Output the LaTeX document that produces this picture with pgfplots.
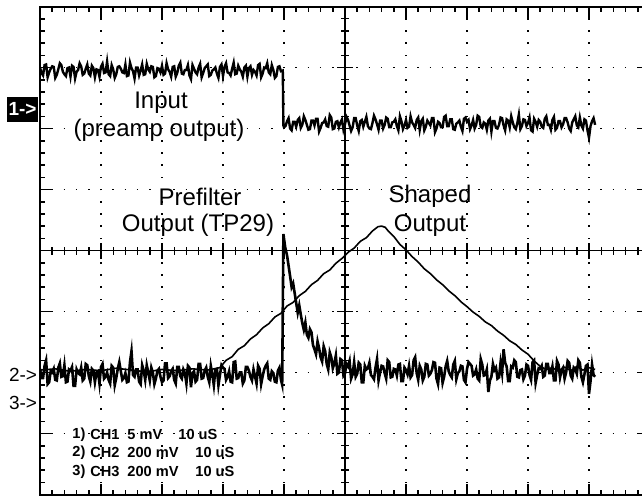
\documentclass[border=0pt]{standalone}
\usepackage{pgfplots}
\pgfplotsset{compat=1.18}
\usepackage{fontspec}
\setmainfont{Liberation Sans}

\begin{document}
\begin{tikzpicture}
\useasboundingbox (-20pt,-0.25pt) rectangle (301pt,247.25pt);
\clip (-20pt,-0.25pt) rectangle (301pt,247.25pt);
% centre cross of the graticule
\draw[line width=0.8pt] (152.5pt,0pt) -- (152.5pt,244pt);
\draw[line width=0.8pt] (0pt,122pt) -- (305pt,122pt);
\foreach \i in {1,...,39} {
  \draw[line width=0.7pt] ({152.5pt-2pt},{\i*6.1pt}) -- ++(4pt,0pt);
}
\foreach \i in {1,...,49} {
  \draw[line width=0.7pt] ({\i*6.1pt},{122pt-2pt}) -- ++(0pt,4pt);
}
\foreach \i in {1,...,7} {
  \draw[line width=0.7pt] ({152.5pt-4pt},{\i*30.5pt}) -- ++(8pt,0pt);
}
\foreach \i in {1,...,9} {
  \draw[line width=0.7pt] ({\i*30.5pt},{122pt-4pt}) -- ++(0pt,8pt);
}
\begin{axis}[
  anchor=south west, at={(0pt,0pt)},
  scale only axis, width=305pt, height=244pt,
  xmin=0, xmax=10, ymin=0, ymax=8,
  xtick={0,...,10}, ytick={0,...,8},
  minor x tick num=4, minor y tick num=4,
  xticklabels={}, yticklabels={},
  tick align=inside,
  major tick length=5.5pt, minor tick length=2.5pt,
  every tick/.style={black, line width=0.8pt},
  grid=major,
  major grid style={black, line width=0.8pt, dash pattern=on 0.8pt off 5.3pt, dash phase=0.4pt},
  axis line style={line width=1pt},
  clip=true,
]
% Channel 3: shaped output
\addplot[black, line width=0.8pt, line join=round] coordinates {
(0.00,2.04)(0.25,2.06)(0.50,2.02)(0.75,2.05)(1.00,2.03)(1.25,2.07)(1.50,2.04)(1.75,2.01)(2.00,2.05)(2.25,2.03)
(2.50,2.06)(2.75,2.04)(2.95,2.08)(3.05,2.20)(3.15,2.26)(3.25,2.38)(3.35,2.44)(3.45,2.55)(3.55,2.62)(3.65,2.73)
(3.75,2.80)(3.85,2.91)(3.95,2.97)(4.05,3.09)(4.15,3.15)(4.25,3.26)(4.35,3.33)(4.45,3.44)(4.55,3.51)(4.65,3.62)
(4.75,3.68)(4.85,3.79)(4.95,3.87)(5.05,3.97)(5.15,4.04)(5.25,4.15)(5.35,4.21)(5.45,4.32)(5.54,4.39)(5.60,4.40)
(5.66,4.38)(5.70,4.33)(5.80,4.23)(5.90,4.10)(6.00,4.01)(6.10,3.90)(6.20,3.81)(6.30,3.70)(6.40,3.62)(6.50,3.52)
(6.60,3.44)(6.70,3.34)(6.80,3.26)(6.90,3.16)(7.00,3.08)(7.10,2.99)(7.20,2.92)(7.30,2.83)(7.40,2.77)(7.50,2.68)
(7.60,2.61)(7.70,2.52)(7.80,2.46)(7.90,2.37)(8.00,2.30)(8.10,2.19)(8.20,2.10)(8.30,2.05)(8.40,2.08)(8.50,2.02)
(8.60,2.09)(8.70,2.03)(8.80,2.10)(8.90,2.04)(9.00,2.08)(9.10,2.05)
};
% Channel 2: prefilter output (TP29)
\addplot[black, line width=1.3pt, line join=miter] coordinates {
(0.000,2.06)(0.025,1.91)(0.050,1.91)(0.075,2.11)(0.100,2.20)(0.125,1.81)(0.150,1.84)(0.175,2.02)(0.200,2.00)(0.225,2.06)
(0.250,1.88)(0.275,1.87)(0.300,2.08)(0.325,2.15)(0.350,1.93)(0.375,1.94)(0.400,2.12)(0.425,1.84)(0.450,1.85)(0.475,2.05)
(0.500,2.03)(0.525,2.09)(0.550,1.78)(0.575,1.78)(0.600,2.05)(0.625,1.99)(0.650,1.97)(0.675,2.08)(0.700,1.87)(0.725,1.90)
(0.750,2.14)(0.775,2.12)(0.800,1.94)(0.825,1.85)(0.850,2.06)(0.875,2.03)(0.900,1.84)(0.925,2.00)(0.950,2.02)(0.975,1.82)
(1.000,2.09)(1.025,2.14)(1.050,1.90)(1.075,1.93)(1.100,2.00)(1.125,1.88)(1.150,1.82)(1.175,2.11)(1.200,2.08)(1.225,1.79)
(1.250,1.91)(1.275,2.06)(1.300,2.17)(1.325,2.02)(1.350,1.88)(1.375,1.91)(1.400,1.99)(1.425,1.84)(1.450,1.85)(1.475,2.17)
(1.500,2.35)(1.525,1.96)(1.550,1.93)(1.575,2.05)(1.600,2.05)(1.625,1.85)(1.650,1.81)(1.675,2.12)(1.700,2.03)(1.725,1.88)
(1.750,2.12)(1.775,2.00)(1.800,1.87)(1.825,2.08)(1.850,2.00)(1.875,1.81)(1.900,1.90)(1.925,2.03)(1.950,2.06)(1.975,1.93)
(2.000,1.84)(2.025,1.87)(2.050,2.15)(2.075,2.15)(2.100,1.91)(2.125,1.94)(2.150,2.02)(2.175,2.06)(2.200,1.88)(2.225,1.82)
(2.250,2.09)(2.275,2.09)(2.300,1.94)(2.325,1.90)(2.350,2.05)(2.375,1.99)(2.400,1.82)(2.425,2.11)(2.450,2.08)(2.475,1.76)
(2.500,1.99)(2.525,2.02)(2.550,1.85)(2.575,1.88)(2.600,2.14)(2.625,2.14)(2.650,1.90)(2.675,1.91)(2.700,2.03)(2.725,2.08)
(2.750,1.93)(2.775,1.84)(2.800,2.11)(2.825,1.97)(2.850,1.79)(2.875,2.05)(2.900,2.06)(2.925,1.79)(2.950,1.96)(2.975,2.12)
(3.000,2.08)(3.025,2.06)(3.050,1.88)(3.075,1.93)(3.100,2.02)(3.125,1.85)(3.150,1.84)(3.175,2.17)(3.200,2.18)(3.225,1.90)
(3.250,1.91)(3.275,2.00)(3.300,2.00)(3.325,1.82)(3.350,1.87)(3.375,2.09)(3.400,2.09)(3.425,2.03)(3.450,1.93)(3.475,1.87)
(3.500,2.05)(3.525,1.94)(3.550,1.82)(3.575,2.11)(3.600,2.06)(3.625,1.81)(3.650,1.94)(3.675,2.05)(3.700,2.11)(3.725,2.15)
(3.750,1.90)(3.775,1.88)(3.800,2.02)(3.825,1.99)(3.850,1.85)(3.875,1.84)(3.900,2.03)(3.925,2.08)(3.950,1.88)
(3.970,1.80)(3.990,4.27)(4.020,4.05)
(4.050,3.92)(4.075,3.75)(4.100,3.58)(4.125,3.40)(4.150,3.46)(4.175,3.30)(4.200,3.14)(4.225,2.98)(4.250,3.10)(4.275,2.95)
(4.300,2.81)(4.325,2.70)(4.350,2.82)(4.375,2.62)(4.400,2.57)(4.425,2.71)(4.450,2.66)(4.475,2.45)(4.500,2.38)(4.525,2.30)
(4.550,2.51)(4.575,2.40)(4.600,2.25)(4.625,2.18)(4.650,2.43)(4.675,2.35)(4.700,2.14)(4.725,2.05)(4.750,2.33)(4.775,2.25)
(4.800,2.07)(4.825,2.15)(4.850,2.28)(4.875,1.98)(4.900,2.00)(4.925,2.22)(4.950,2.20)(4.975,1.95)(5.000,1.99)(5.025,2.14)
(5.050,2.10)(5.075,2.19)(5.100,1.90)(5.125,1.97)(5.150,2.17)(5.175,1.93)(5.200,1.98)(5.225,2.16)(5.250,2.13)(5.275,1.84)
(5.300,1.84)(5.325,2.11)(5.350,2.05)(5.375,2.07)(5.400,2.16)(5.425,1.96)(5.450,1.93)(5.475,1.89)(5.500,2.08)(5.525,2.22)
(5.550,1.87)(5.575,2.00)(5.600,2.11)(5.625,2.10)(5.650,1.99)(5.675,1.90)(5.700,2.20)(5.725,2.17)(5.750,1.92)(5.775,1.93)
(5.800,2.06)(5.825,2.05)(5.850,1.95)(5.875,2.13)(5.900,2.14)(5.925,1.86)(5.950,1.86)(5.975,2.08)(6.000,2.04)(6.025,1.97)
(6.050,2.11)(6.075,1.92)(6.100,1.96)(6.125,2.20)(6.150,2.25)(6.175,1.99)(6.200,1.88)(6.225,2.11)(6.250,2.05)(6.275,1.87)
(6.300,1.93)(6.325,2.14)(6.350,2.13)(6.375,1.95)(6.400,1.98)(6.425,2.04)(6.450,2.17)(6.475,2.16)(6.500,1.90)(6.525,1.81)
(6.550,2.08)(6.575,2.07)(6.600,1.83)(6.625,1.93)(6.650,2.10)(6.675,2.19)(6.700,2.02)(6.725,1.96)(6.750,1.92)(6.775,2.13)
(6.800,2.19)(6.825,1.89)(6.850,1.99)(6.875,2.02)(6.900,2.11)(6.925,2.10)(6.950,1.88)(6.975,1.84)(7.000,2.06)(7.025,2.17)
(7.050,2.14)(7.075,2.11)(7.100,1.95)(7.125,1.97)(7.150,2.05)(7.175,1.90)(7.200,1.87)(7.225,2.22)(7.250,2.13)(7.275,1.95)
(7.300,1.96)(7.325,2.05)(7.350,1.68)(7.375,1.87)(7.400,1.93)(7.425,2.14)(7.450,2.04)(7.475,2.08)(7.500,1.90)(7.525,1.92)
(7.550,2.16)(7.575,1.99)(7.600,2.38)(7.625,2.16)(7.650,2.10)(7.675,1.86)(7.700,1.86)(7.725,2.10)(7.750,2.08)(7.775,2.20)
(7.800,2.17)(7.825,1.93)(7.850,1.92)(7.875,2.04)(7.900,2.05)(7.925,1.89)(7.950,1.95)(7.975,2.13)(8.000,2.11)(8.025,1.96)
(8.050,1.88)(8.075,2.17)(8.100,2.20)(8.125,1.83)(8.150,1.96)(8.175,2.07)(8.200,2.06)(8.225,2.11)(8.250,1.93)(8.275,1.95)
(8.300,2.14)(8.325,2.14)(8.350,1.99)(8.375,1.99)(8.400,2.10)(8.425,1.87)(8.450,1.87)(8.475,2.19)(8.500,2.13)(8.525,1.92)
(8.550,2.04)(8.575,2.08)(8.600,1.90)(8.625,2.00)(8.650,2.19)(8.675,2.16)(8.700,1.95)(8.725,1.90)(8.750,2.08)(8.775,2.05)
(8.800,1.98)(8.825,2.20)(8.850,2.16)(8.875,1.93)(8.900,1.84)(8.925,1.97)(8.950,2.11)(8.975,2.13)(9.000,1.65)(9.025,1.86)
(9.050,2.13)(9.075,1.96)(9.100,1.93)
};
% Channel 1: input (preamp output)
\addplot[black, line width=1.2pt, line join=miter] coordinates {
(0.000,7.00)(0.025,6.91)(0.050,6.87)(0.075,7.04)(0.100,7.05)(0.125,6.84)(0.150,6.92)(0.175,6.98)(0.200,7.02)(0.225,7.01)
(0.250,6.83)(0.275,6.88)(0.300,6.97)(0.325,7.07)(0.350,7.04)(0.375,6.93)(0.400,6.89)(0.425,6.86)(0.450,6.99)(0.475,7.00)
(0.500,6.85)(0.525,7.03)(0.550,7.01)(0.575,6.82)(0.600,6.93)(0.625,6.96)(0.650,7.07)(0.675,7.02)(0.700,6.88)(0.725,6.90)
(0.750,6.98)(0.775,7.05)(0.800,6.90)(0.825,6.87)(0.850,7.03)(0.875,6.99)(0.900,6.84)(0.925,6.97)(0.950,6.96)(0.975,6.85)
(1.000,7.01)(1.025,7.06)(1.050,6.91)(1.075,6.92)(1.100,7.10)(1.125,6.89)(1.150,6.86)(1.175,7.04)(1.200,6.97)(1.225,6.83)
(1.250,6.89)(1.275,7.01)(1.300,7.02)(1.325,6.98)(1.350,6.92)(1.375,6.91)(1.400,7.05)(1.425,6.86)(1.450,6.87)(1.475,7.08)
(1.500,6.99)(1.525,6.94)(1.550,6.82)(1.575,7.00)(1.600,7.00)(1.625,6.87)(1.650,6.95)(1.675,7.05)(1.700,6.88)(1.725,6.89)
(1.750,7.06)(1.775,6.97)(1.800,6.93)(1.825,7.02)(1.850,7.01)(1.875,6.84)(1.900,6.86)(1.925,6.99)(1.950,6.98)(1.975,6.92)
(2.000,7.03)(2.025,6.88)(2.050,6.90)(2.075,7.07)(2.100,6.97)(2.125,6.93)(2.150,6.85)(2.175,7.01)(2.200,7.02)(2.225,6.85)
(2.250,6.91)(2.275,7.03)(2.300,7.08)(2.325,6.90)(2.350,6.89)(2.375,6.96)(2.400,6.96)(2.425,7.04)(2.450,6.87)(2.475,6.81)
(2.500,7.04)(2.525,6.98)(2.550,6.92)(2.575,6.89)(2.600,7.00)(2.625,7.06)(2.650,6.84)(2.675,6.91)(2.700,6.99)(2.725,7.02)
(2.750,7.05)(2.775,6.86)(2.800,6.88)(2.825,6.95)(2.850,6.97)(2.875,7.00)(2.900,6.90)(2.925,6.83)(2.950,7.01)(2.975,7.05)
(3.000,6.86)(3.025,7.01)(3.050,7.07)(3.075,6.92)(3.100,6.91)(3.125,6.87)(3.150,6.98)(3.175,7.08)(3.200,6.89)(3.225,6.90)
(3.250,7.03)(3.275,6.97)(3.300,6.93)(3.325,6.85)(3.350,7.00)(3.375,7.03)(3.400,6.85)(3.425,6.99)(3.450,7.02)(3.475,6.88)
(3.500,6.96)(3.525,6.93)(3.550,6.87)(3.575,7.04)(3.600,7.06)(3.625,6.84)(3.650,6.90)(3.675,7.00)(3.700,6.99)(3.725,7.07)
(3.750,6.92)(3.775,6.89)(3.800,7.04)(3.825,6.96)(3.850,6.83)(3.875,6.86)(3.900,7.01)(3.925,7.02)(3.950,6.94)
(3.980,6.95)(3.990,6.05)
(4.000,6.02)(4.025,6.04)(4.050,6.12)(4.075,6.17)(4.100,6.00)(4.125,5.97)(4.150,6.11)(4.175,6.11)(4.200,6.03)(4.225,6.14)
(4.250,6.17)(4.275,6.01)(4.300,6.06)(4.325,6.20)(4.350,6.14)(4.375,6.06)(4.400,5.98)(4.425,5.99)(4.450,6.13)(4.475,6.13)
(4.500,6.05)(4.525,6.16)(4.550,6.16)(4.575,5.95)(4.600,6.01)(4.625,6.09)(4.650,6.10)(4.675,6.15)(4.700,6.04)(4.725,6.03)
(4.750,6.22)(4.775,6.18)(4.800,5.99)(4.825,6.00)(4.850,6.11)(4.875,6.12)(4.900,6.02)(4.925,6.10)(4.950,6.15)(4.975,5.98)
(5.000,6.07)(5.025,6.19)(5.050,6.14)(5.075,6.05)(5.100,5.96)(5.125,6.02)(5.150,6.17)(5.175,6.17)(5.200,6.05)(5.225,5.96)
(5.250,6.12)(5.275,6.14)(5.300,6.03)(5.325,6.11)(5.350,6.19)(5.375,6.04)(5.400,6.00)(5.425,5.99)(5.450,6.09)(5.475,6.21)
(5.500,6.15)(5.525,6.07)(5.550,5.98)(5.575,6.13)(5.600,6.13)(5.625,6.00)(5.650,6.06)(5.675,6.18)(5.700,6.16)(5.725,6.02)
(5.750,6.02)(5.775,6.10)(5.800,6.11)(5.825,6.15)(5.850,6.04)(5.875,5.97)(5.900,6.20)(5.925,6.12)(5.950,5.99)(5.975,6.05)
(6.000,6.14)(6.025,6.01)(6.050,6.03)(6.075,6.20)(6.100,6.10)(6.125,6.06)(6.150,6.01)(6.175,6.14)(6.200,6.18)(6.225,5.98)
(6.250,6.12)(6.275,6.16)(6.300,5.97)(6.325,6.03)(6.350,6.13)(6.375,6.09)(6.400,6.05)(6.425,6.17)(6.450,6.17)(6.475,5.94)
(6.500,6.00)(6.525,6.11)(6.550,6.09)(6.575,6.02)(6.600,6.02)(6.625,6.19)(6.650,6.21)(6.675,6.04)(6.700,6.04)(6.725,6.15)
(6.750,6.15)(6.775,5.99)(6.800,5.98)(6.825,6.08)(6.850,6.10)(6.875,6.13)(6.900,6.03)(6.925,5.96)(6.950,6.16)(6.975,6.18)
(7.000,6.11)(7.025,6.14)(7.050,5.99)(7.075,6.05)(7.100,6.14)(7.125,6.00)(7.150,6.06)(7.175,6.21)(7.200,6.19)(7.225,6.03)
(7.250,6.01)(7.275,6.10)(7.300,6.08)(7.325,5.98)(7.350,6.13)(7.375,6.16)(7.400,5.95)(7.425,6.12)(7.450,6.12)(7.475,6.01)
(7.500,6.00)(7.525,6.06)(7.550,6.18)(7.575,6.17)(7.600,6.05)(7.625,5.97)(7.650,6.15)(7.675,6.13)(7.700,6.02)(7.725,6.20)
(7.750,6.10)(7.775,6.02)(7.800,5.99)(7.825,6.09)(7.850,6.23)(7.875,5.99)(7.900,6.04)(7.925,6.15)(7.950,6.14)(7.975,6.04)
(8.000,6.09)(8.025,6.18)(8.050,5.97)(8.075,5.95)(8.100,6.16)(8.125,6.11)(8.150,6.03)(8.175,6.14)(8.200,6.11)(8.225,6.03)
(8.250,6.01)(8.275,6.16)(8.300,6.20)(8.325,6.06)(8.350,6.06)(8.375,5.98)(8.400,6.14)(8.425,6.19)(8.450,5.98)(8.475,6.01)
(8.500,6.12)(8.525,6.12)(8.550,6.02)(8.575,6.07)(8.600,6.17)(8.625,6.17)(8.650,6.10)(8.675,6.00)(8.700,5.96)(8.725,6.10)
(8.750,6.15)(8.775,6.20)(8.800,6.05)(8.825,6.02)(8.850,6.18)(8.875,6.05)(8.900,6.00)(8.925,6.15)(8.950,6.13)(8.975,5.97)
(9.000,5.85)(9.025,6.04)(9.050,6.12)(9.075,6.17)(9.100,6.06)
};
\end{axis}
% channel markers
\node[fill=black, text=white, font=\bfseries\fontsize{9.5}{11}\selectfont, inner sep=0pt,
      minimum width=15.5pt, minimum height=12.5pt] at (-8.75pt,192.75pt) {1->};
\node[font=\fontsize{9.5}{11}\selectfont, inner sep=0pt] at (-8.5pt,60pt) {2->};
\node[font=\fontsize{9.5}{11}\selectfont, inner sep=0pt] at (-8.5pt,46pt) {3->};
% trace titles
\begin{scope}[every node/.style={font=\fontsize{12}{14}\selectfont, inner sep=0pt}]
\node at (60.5pt,196pt) {Input};
\node at (59.5pt,182pt) {(preamp output)};
\node at (80pt,149pt) {Prefilter};
\node at (79pt,134.5pt) {Output (TP29)};
\node at (195pt,149pt) {Shaped};
\node at (195pt,134.5pt) {Output};
\end{scope}
% scope settings
\begin{scope}[every node/.style={font=\bfseries\fontsize{7.3}{8}\selectfont, inner sep=0pt, anchor=west}]
\node at (16pt,30pt) {1)};
\node at (25pt,30pt) {CH1};
\node at (43.5pt,30pt) {5 mV};
\node at (69pt,30pt) {10 uS};
\node at (16pt,21pt) {2)};
\node at (25pt,21pt) {CH2};
\node at (43.5pt,21pt) {200 mV};
\node at (77.5pt,21pt) {10 uS};
\node at (16pt,11.5pt) {3)};
\node at (25pt,11.5pt) {CH3};
\node at (43.5pt,11.5pt) {200 mV};
\node at (77.5pt,11.5pt) {10 uS};
\end{scope}
\end{tikzpicture}
\end{document}
